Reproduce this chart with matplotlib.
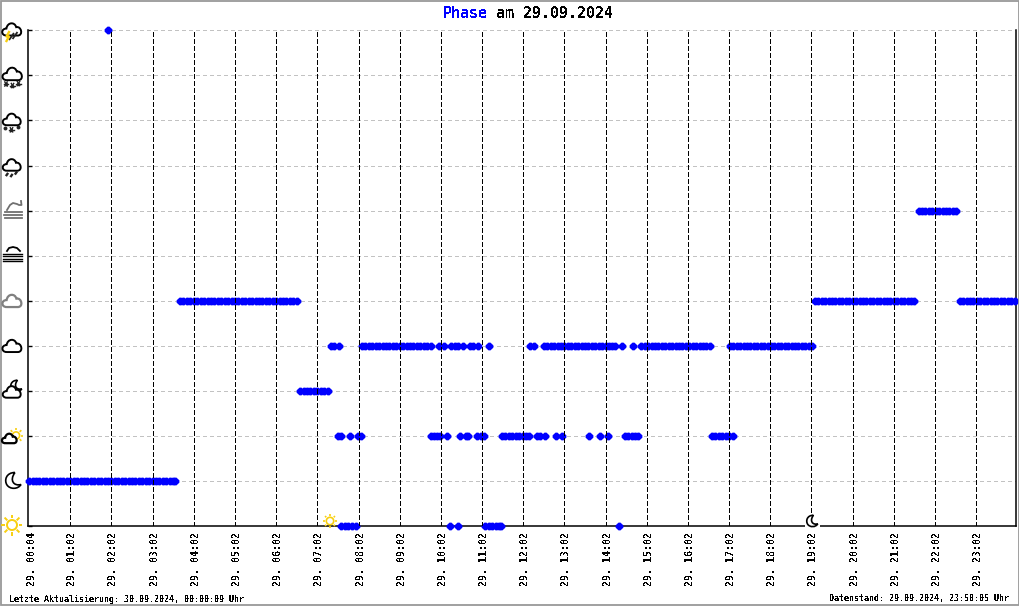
import numpy as np
import matplotlib
matplotlib.use("Agg")
import matplotlib.pyplot as plt
from matplotlib.path import Path
from matplotlib.patches import PathPatch, Rectangle, Circle
from matplotlib.transforms import ScaledTranslation

plt.rcParams["font.family"] = ["DejaVu Sans Mono"]
plt.rcParams["text.antialiased"] = False
plt.rcParams["font.weight"] = "bold"

# Times in minutes after midnight, one list per weather phase (0 = bottom row)
phase_0 = [457, 462, 467, 472, 478, 615, 627, 667, 672, 677, 682, 687, 690, 861]
phase_1 = [2, 7, 12, 17, 22, 27, 32, 37, 42, 47, 52, 57, 62, 67, 72, 77, 82, 87, 92, 97, 102, 107,
           112, 117, 122, 127, 132, 137, 142, 147, 152, 157, 162, 167, 172, 177, 182, 187, 192,
           197, 202, 207, 212, 214]
phase_2 = [452, 457, 469, 481, 485, 588, 592, 597, 601, 611, 630, 638, 642, 654, 660, 665, 691, 696,
           701, 706, 711, 716, 721, 726, 731, 742, 747, 754, 770, 778, 818, 834, 846, 870, 875, 880,
           885, 889, 997, 1002, 1007, 1012, 1017, 1022, 1028]
phase_3 = [397, 402, 407, 412, 417, 422, 427, 432, 437]
phase_4 = [442, 447, 454, 487, 492, 497, 502, 507, 512, 517, 522, 527, 532, 537, 542, 547, 552, 557,
           562, 567, 572, 577, 582, 587, 600, 607, 617, 622, 627, 634, 644, 649, 656, 672, 732, 737,
           752, 757, 762, 767, 772, 777, 782, 787, 792, 797, 802, 807, 812, 817, 822, 827, 832, 837,
           842, 847, 852, 855, 866, 882, 894, 899, 904, 909, 914, 919, 924, 929, 934, 939, 944, 949,
           954, 959, 964, 969, 974, 979, 984, 989, 994, 1023, 1028, 1033, 1038, 1043, 1048, 1053,
           1058, 1063, 1068, 1073, 1078, 1083, 1088, 1093, 1098, 1103, 1108, 1113, 1118, 1123, 1128,
           1133, 1138, 1143]
phase_5 = [222, 227, 232, 237, 242, 247, 252, 257, 262, 267, 272, 277, 282, 287, 292, 297, 302, 307,
           312, 317, 322, 327, 332, 337, 342, 347, 352, 357, 362, 367, 372, 377, 382, 387, 392,
           1147, 1152, 1157, 1162, 1167, 1172, 1177, 1182, 1187, 1192, 1197, 1202, 1207, 1212, 1217,
           1222, 1227, 1232, 1237, 1242, 1247, 1252, 1257, 1262, 1267, 1272, 1277, 1282, 1287, 1292,
           1358, 1363, 1368, 1373, 1378, 1383, 1388, 1393, 1398, 1403, 1408, 1413, 1418, 1423, 1428,
           1433, 1438]
phase_7 = [1298, 1303, 1308, 1313, 1318, 1323, 1328, 1333, 1338, 1343, 1348, 1353]
phase_11 = [117]

phases = {0: phase_0, 1: phase_1, 2: phase_2, 3: phase_3, 4: phase_4, 5: phase_5, 7: phase_7, 11: phase_11}

tick_minutes = [4, 62, 122, 182, 242, 302, 362, 422, 482, 542, 602, 662, 722, 782, 842, 902, 962, 1022,
                1082, 1142, 1202, 1262, 1322, 1382]
tick_labels = ["29. 00:04", "29. 01:02", "29. 02:02", "29. 03:02", "29. 04:02", "29. 05:02", "29. 06:02",
               "29. 07:02", "29. 08:02", "29. 09:02", "29. 10:02", "29. 11:02", "29. 12:02", "29. 13:02",
               "29. 14:02", "29. 15:02", "29. 16:02", "29. 17:02", "29. 18:02", "29. 19:02", "29. 20:02",
               "29. 21:02", "29. 22:02", "29. 23:02"]

W, H = 1020, 606
fig = plt.figure(figsize=(W / 100, H / 100), dpi=100)
ax = fig.add_axes([27.7 / W, 1 - 526.3 / H, (1016 - 27.7) / W, (526.3 - 30.3) / H])
ax.set_xlim(0, 1440)
ax.set_ylim(0, 11)

ax.set_yticks(range(12))
ax.set_yticklabels([])
ax.tick_params(axis="y", direction="in", length=3, width=1, color="black")
ax.set_xticks(tick_minutes)
ax.set_xticklabels(tick_labels, rotation=90, fontsize=7.2, va="top", ha="center")
ax.tick_params(axis="x", length=0, pad=4)
# the labels sit a little right of their gridlines
for lab in ax.get_xticklabels():
    lab.set_transform(lab.get_transform() + ScaledTranslation(0.02, 0, fig.dpi_scale_trans))

ax.spines["top"].set_visible(False)
for s in ["left", "bottom", "right"]:
    ax.spines[s].set_linewidth(1.1)
    ax.spines[s].set_zorder(2)

for y in range(12):
    ax.axhline(y, color="#c2c2c2", lw=0.72, dashes=(3, 3.5), zorder=1, antialiased=False)
for t in tick_minutes[1:]:
    ax.plot([t, t], [0, 11], color="black", lw=0.72, dashes=(4.5, 2.7), zorder=4, antialiased=False)

blob = Path([(-1, -0.3), (-0.25, -1), (0.25, -1), (1, -0.3), (1, 0.3), (0.25, 1), (-0.25, 1), (-1, 0.3), (-1, -0.3)])
for level, times in phases.items():
    ax.plot(times, [level] * len(times), ls="none", marker=blob, ms=5.6, mfc="#0000ff", mec="#0000ff",
            mew=0, clip_on=False, zorder=3, antialiased=False)

# Overlay in pixel coordinates for the title, footers and the weather icons
ov = fig.add_axes([0, 0, 1, 1], facecolor="none")
ov.set_xlim(0, W)
ov.set_ylim(H, 0)
ov.axis("off")
ov.add_patch(Rectangle((0.5, 0.5), W - 1.5, H - 1.5, fill=False, ec="#999999", lw=1.3))

ov.text(442.7, 13.5, "Phase", color="#0000ff", fontsize=10.8, va="center", ha="left")
ov.text(496.5, 13.5, "am 29.09.2024", color="black", fontsize=10.8, va="center", ha="left")
ov.text(9.5, 599, "Letzte Aktualisierung: 30.09.2024, 00:00:09 Uhr", fontsize=6, va="center", ha="left")
ov.text(1009, 599, "Datenstand: 29.09.2024, 23:58:05 Uhr", fontsize=6, va="center", ha="right")

YEL = "#f8cf10"


def cloud(cx, cy, s=1.0, color="black", lw=1.4, fc="none"):
    v = np.array([(-6, 6.5), (-12, 6.5), (-12, -1), (-6, -1), (-5, -8), (3, -8.5), (4.5, -2.5),
                  (10, -4), (12.5, 6.5), (6, 6.5), (-6, 6.5)]) * s + (cx, cy)
    c = [Path.MOVETO] + [Path.CURVE4] * 9 + [Path.LINETO]
    ov.add_patch(PathPatch(Path(v, c), fc=fc, ec=color, lw=lw, zorder=5))


def sun(cx, cy, r, rr, color=YEL, lw=1.4):
    ov.add_patch(Circle((cx, cy), r, fc="white", ec=color, lw=lw, zorder=5))
    for a in np.arange(0, 360, 45):
        ca, sa = np.cos(np.radians(a)), np.sin(np.radians(a))
        ov.plot([cx + ca * (r + 1.6), cx + ca * rr], [cy + sa * (r + 1.6), cy + sa * rr], color=color,
                lw=lw, solid_capstyle="butt", zorder=5)


def moon(cx, cy, s=1.0, color="black", lw=1.2):
    # outer bow on the left, inner bow back to the horn at top right
    v = np.array([(2, -8), (-7, -8), (-9, 0), (-6, 4.5), (-3, 9), (5, 9), (8, 4),
                  (1, 6), (-4, 0), (2, -8)]) * s + (cx, cy)
    c = [Path.MOVETO] + [Path.CURVE4] * 9
    ov.add_patch(PathPatch(Path(v, c), fc="white", ec=color, lw=lw, zorder=5))


def star(x, y, r=2.4, color="#222222"):
    for a in (0, 60, 120):
        ca, sa = np.cos(np.radians(a)) * r, np.sin(np.radians(a)) * r
        ov.plot([x - ca, x + ca], [y - sa, y + sa], color=color, lw=1.0, zorder=5)
    ov.plot([x], [y], "o", color=color, ms=2.5, mew=0, zorder=5)


def slash(x, y, l=3, lw=1.1):
    ov.plot([x + 0.35 * l, x - 0.35 * l], [y - l / 2, y + l / 2], color="#222222", lw=lw,
            solid_capstyle="butt", zorder=6)


# thunderstorm
cloud(12, 29.5, 0.93)
slash(11.5, 36.5, 7, 1.3)
slash(15, 35.5, 7, 1.3)
ov.plot([9, 6.5, 9, 6.5], [32, 36.5, 36.5, 41], color=YEL, lw=1.7, zorder=6)
# heavy snow
cloud(12.5, 74, 0.95)
star(6, 84)
star(12.5, 85.5)
star(18.5, 83.5)
# snow
cloud(12, 119.5, 0.88)
ov.plot([5.5, 18], [127.5, 127], "o", color="#222222", ms=2.8, mew=0, zorder=5)
star(11.5, 129.8)
# rain
cloud(12, 165, 0.88)
slash(7, 174.5, 3.2, 1.7)
slash(11.5, 175.5, 3.2, 1.7)
slash(16, 173, 3.2, 1.7)
# haze, grey
for y, x0 in zip((212, 214.5, 218), (5, 4, 5)):
    ov.plot([x0, 22], [y, y], color="#707070", lw=1.3, zorder=5)
v = np.array([(7, 210), (10, 205), (13, 203), (17, 204), (19, 205), (21.5, 205), (21, 201)])
ov.plot(v[:, 0], v[:, 1], color="#707070", lw=1.3, zorder=5)
# fog, black
for y in (253.5, 256, 258.5, 261):
    ov.plot([3.5, 22], [y, y], color="black", lw=1.0, zorder=5)
ov.plot([7, 9, 13, 17, 20], [251, 248, 247, 248, 251], color="black", lw=1.3, zorder=5)
# overcast and cloudy
cloud(12.2, 301, 0.93, color="#808080", lw=1.6)
cloud(12.2, 346, 0.93)
# moon behind a cloud
moon(16, 386, 0.72)
cloud(12, 392, 0.88, fc="white")
# sun behind a cloud
sun(16, 435.5, 3.6, 7.5, lw=1.2)
cloud(9.5, 438.5, 0.72, fc="white", lw=1.6)
# moon and sun on the two bottom rows
moon(13, 480.5, 1.0)
sun(12, 525, 5, 10.5)
# sunrise and sunset marks on the axis
sun(330, 521, 3.7, 7, lw=1.2)
ov.add_patch(Rectangle((805, 524), 15, 4, fc="white", ec="none", zorder=4))
moon(812, 521, 0.72)

fig.savefig("out.png", dpi=100)
